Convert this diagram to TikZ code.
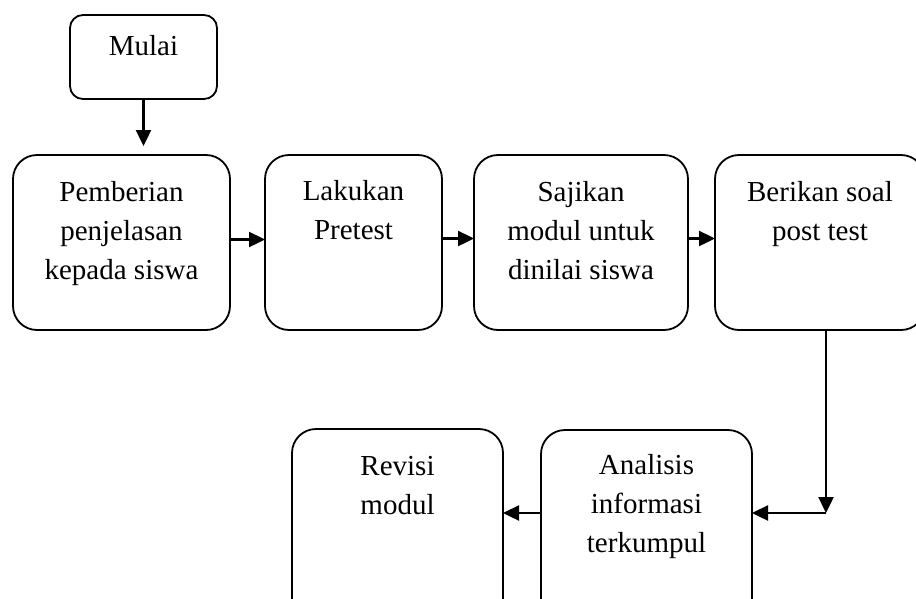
\documentclass[tikz,border=0pt]{standalone}
\usepackage{fontspec}
\setmainfont{Liberation Serif}
\usetikzlibrary{arrows.meta,calc}
\begin{document}
\begin{tikzpicture}[x=1pt,y=-1pt,
  box/.style={draw, line width=1.8pt, rounded corners=24pt, inner sep=0pt, outer sep=0pt},
  lbl/.style={align=center, inner sep=0pt, anchor=base, font=\fontsize{29}{39}\selectfont},
  arr/.style={line width=2.4pt, -{Triangle[length=16pt,width=15pt]}}]
\clip (0,0) rectangle (916,598);
% boxes
\node[box, rounded corners=13pt, minimum width=147pt, minimum height=84pt] (mulai) at (143.5,57) {};
\node[box, minimum width=217pt, minimum height=175pt] (b1) at (121.5,242.5) {};
\node[box, minimum width=177pt, minimum height=175pt] (b2) at (353.5,242.5) {};
\node[box, minimum width=214pt, minimum height=175pt] (b3) at (581,242.5) {};
\node[box, minimum width=210pt, minimum height=175pt] (b4) at (820,242.5) {};
\node[box, minimum width=211pt, minimum height=211pt] (rev) at (397.5,534.5) {};
\node[box, minimum width=211pt, minimum height=210pt] (ana) at (646.5,535) {};
% labels (anchor base = baseline of the last line)
\node[lbl] (tmulai) at ($(mulai.north)+(0,40)$) {Mulai};
\node[lbl] (t1) at ($(b1.north)+(0,124)$) {Pemberian\\penjelasan\\kepada siswa};
\node[lbl] (t2) at ($(b2.north)+(0,84)$) {Lakukan\\Pretest};
\node[lbl] (t3) at ($(b3.north)+(0,124)$) {Sajikan\\modul untuk\\dinilai siswa};
\node[lbl] (t4) at ($(b4.north)+(0,85)$) {Berikan soal\\post test};
\node[lbl] (trev) at ($(rev.north)+(0,85)$) {Revisi\\modul};
\node[lbl] (tana) at ($(ana.north)+(0,122)$) {Analisis\\informasi\\terkumpul};
% connectors
\coordinate (corner) at (826,513);
\draw[arr, shorten >=9pt] (mulai.south) -- (mulai.south |- b1.north);
\draw[arr] ([yshift=3pt]b1.east) -- ([yshift=3pt]b2.west);
\draw[arr] ([yshift=4pt]b2.east) -- ([yshift=4pt]b3.west);
\draw[arr] ([yshift=4pt]b3.east) -- ([yshift=4pt]b4.west);
\draw[arr] (b4.south -| corner) -- (corner);
\draw[arr] (corner) -- (corner -| ana.east);
\draw[arr] (ana.west |- corner) -- (rev.east |- corner);
\end{tikzpicture}
\end{document}
